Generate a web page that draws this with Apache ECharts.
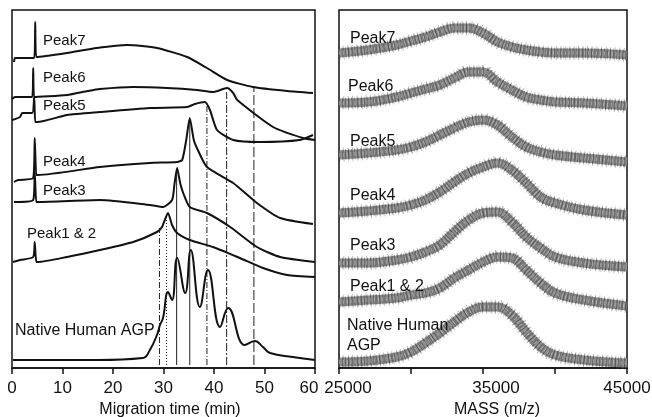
<!DOCTYPE html>
<html>
<head>
<meta charset="utf-8">
<script src="https://cdn.jsdelivr.net/npm/echarts@6/dist/echarts.min.js"></script>
<style>
  html, body { margin: 0; padding: 0; background: #fff; }
  #chart { width: 652px; height: 417px; }
</style>
</head>
<body>
<div id="chart"></div>
<script>
// left panel: electropherograms, [time (min), offset signal]
const peak7Trace = [[0.4,306],[0.6,310],[4.4,310],[4.6,346],[4.8,311],[10.9,315],[16.8,320],[22.8,323],[28.7,320],[34.7,311],[38.6,300],[42.6,288],[47.7,281],[54.5,277],[59.6,275]];
const peak6Trace = [[0,269],[0.6,271],[4.0,271],[4.2,300],[4.4,271],[10.9,273],[15.0,277],[17.4,279],[24.0,281],[30.7,280],[36.6,278],[39.8,276],[42.6,280],[43.8,275],[44.6,268],[51.7,241],[57.6,230],[60,228]];
const peak5Trace = [[0,248],[1.6,251],[2.0,255],[4.0,255],[4.4,271],[4.6,246],[5.0,246],[10.9,253],[17.4,256],[27.3,260],[34.7,261],[36.2,264],[38.2,266],[39.2,258],[40.6,238],[43.8,228],[49.1,226],[57.0,228],[59.6,233]];
const peak4Trace = [[0.4,186],[1.2,188],[4.2,190],[4.5,230],[4.8,193],[5.1,193],[17.4,201],[27.3,205],[32.7,206],[33.7,208],[34.5,228],[35.2,250],[36.0,228],[36.8,218],[38.6,201],[43.8,185],[48.5,165],[53.1,150],[59.6,144]];
const peak3Trace = [[0.4,166],[4.2,168],[4.5,196],[4.8,166],[5.1,166],[17.4,168],[27.3,163],[29.9,161],[31.7,168],[32.2,185],[32.7,200],[33.3,185],[33.9,175],[35.2,161],[38.6,155],[43.2,141],[48.5,121],[53.1,111],[60,106]];
const peak12Trace = [[0.2,106],[1.6,108],[4.2,111],[4.5,126],[4.8,106],[5.1,106],[10.9,111],[17.4,118],[24.0,126],[28.7,136],[29.7,141],[30.9,155],[31.7,143],[32.7,135],[35.2,128],[39.8,121],[45.1,110],[49.7,100],[54.5,93],[60,91]];
const nativeTrace = [[0.2,8],[4.0,8],[17.0,8],[25.9,10],[27.3,18],[28.7,33],[29.3,43],[29.9,50],[30.9,76],[31.7,68],[32.7,110],[34.3,75],[35.4,118],[37.2,61],[38.8,98],[41.2,41],[42.8,60],[46.1,23],[48.1,27],[49.7,21],[51.1,15],[55.6,11],[60,8]];

// guide lines through the native peaks
const guideTimes = [29.2, 30.6, 32.6, 35.2, 38.6, 42.5, 47.9];
const guideTops = [140, 153, 198, 248, 265, 276, 280];
const guideBottom = 3;

// right panel: mass spectra, band centre per mass
const massPoints = [25000, 27000, 29000, 30000, 31000, 32000, 33000, 34000, 35000, 36000, 37000, 38000, 39000, 40000, 42000, 45000];
const ms7 = [315, 318, 323, 327, 331, 336, 340, 340, 335, 326, 321, 318, 316, 315, 315, 313];
const ms6 = [265, 266, 271, 275, 279, 283, 290, 296, 296, 286, 278, 271, 268, 266, 265, 262];
const ms5 = [213, 215, 218, 221, 226, 233, 240, 246, 248, 243, 231, 221, 216, 213, 210, 206];
const ms4 = [155, 157, 160, 163, 168, 176, 186, 195, 201, 205, 198, 185, 171, 165, 158, 153];
const ms3 = [105, 105, 108, 111, 116, 123, 136, 148, 155, 156, 146, 131, 120, 111, 105, 101];
const ms12 = [66, 68, 70, 73, 75, 80, 90, 98, 106, 111, 110, 98, 85, 75, 68, 62];
const msNative = [6, 7, 11, 16, 25, 35, 46, 56, 61, 61, 53, 36, 21, 13, 8, 5];

const timeTicks = [0, 10, 20, 30, 40, 50, 60];
const massLabels = [25000, 35000, 45000];

const FONT = '"Liberation Sans", Arial, sans-serif';
const dom = document.getElementById('chart');
const myChart = echarts.init(dom, null, { renderer: 'canvas' });

const leftTraces = [peak7Trace, peak6Trace, peak5Trace, peak4Trace, peak3Trace, peak12Trace];
const guideDash = [[6, 2, 1, 2], [1, 2], 'solid', 'solid', [6, 2, 1, 2], [8, 2, 2, 2], [10, 3]];
const spectra = [ms7, ms6, ms5, ms4, ms3, ms12, msNative];

const series = [];

guideTimes.forEach((t, i) => {
  series.push({
    type: 'line', xAxisIndex: 0, yAxisIndex: 0, symbol: 'none', silent: true,
    data: [[t, guideBottom], [t, guideTops[i]]],
    lineStyle: { color: '#222', width: 1, type: guideDash[i] }
  });
});

leftTraces.forEach(tr => {
  series.push({
    type: 'line', xAxisIndex: 0, yAxisIndex: 0, symbol: 'none', smooth: 0.2,
    data: tr, lineStyle: { color: '#111', width: 2 }
  });
});
series.push({
  type: 'line', xAxisIndex: 0, yAxisIndex: 0, symbol: 'none', smooth: 0.45,
  data: nativeTrace, lineStyle: { color: '#111', width: 2 }
});

// noisy-looking bands: grey body plus overlapping stripe patterns
spectra.forEach(sp => {
  const d = massPoints.map((m, i) => [m, sp[i]]);
  const base = { type: 'line', xAxisIndex: 1, yAxisIndex: 1, symbol: 'none', smooth: 0.4, silent: true, data: d };
  series.push(Object.assign({}, base, { lineStyle: { color: '#8e8e8e', width: 9 } }));
  series.push(Object.assign({}, base, { lineStyle: { color: 'rgba(35,35,35,0.4)', width: 11, type: [1, 2.1] } }));
  series.push(Object.assign({}, base, { lineStyle: { color: 'rgba(20,20,20,0.3)', width: 14, type: [0.8, 3.7] } }));
  series.push(Object.assign({}, base, { lineStyle: { color: 'rgba(255,255,255,0.35)', width: 4, type: [1, 2.9] } }));
});

const leftLabels = [
  ['Peak7', 43, 42, 15], ['Peak6', 43, 79, 15], ['Peak5', 43, 107, 15], ['Peak4', 43, 163, 15],
  ['Peak3', 43, 192, 15], ['Peak1 & 2', 27, 235, 15], ['Native Human AGP', 15, 332, 16]
];
const rightLabels = [
  ['Peak7', 350, 40], ['Peak6', 348, 88], ['Peak5', 350, 143], ['Peak4', 350, 197],
  ['Peak3', 350, 247], ['Peak1 & 2', 350, 288], ['Native Human', 347, 327], ['AGP', 347, 347]
];

const graphic = leftLabels.map(l => ({
  type: 'text', left: l[1], top: l[2] - l[3] / 2 - 1,
  style: { text: l[0], font: l[3] + 'px ' + FONT, fill: '#111' }, z: 10
})).concat(rightLabels.map(l => ({
  type: 'text', left: l[1], top: l[2] - 9,
  style: { text: l[0], font: '16px ' + FONT, fill: '#111' }, z: 10
})));

const option = {
  animation: false,
  backgroundColor: '#fff',
  textStyle: { fontFamily: FONT },
  grid: [
    { left: 12, top: 10, width: 303, height: 358, outerBoundsMode: 'none', containLabel: false,
      show: true, borderColor: '#111', borderWidth: 1.5 },
    { left: 339, top: 10, width: 288, height: 358, outerBoundsMode: 'none', containLabel: false,
      show: true, borderColor: '#111', borderWidth: 1.5 }
  ],
  xAxis: [
    {
      gridIndex: 0, type: 'value', min: 0, max: 60, interval: 10,
      name: 'Migration time (min)', nameLocation: 'middle', nameGap: 31,
      nameTextStyle: { fontSize: 16, color: '#111', padding: [0, 0, 0, 13] },
      axisLine: { lineStyle: { color: '#111', width: 1.5 } },
      axisTick: { show: true, inside: false, length: 6, lineStyle: { color: '#111', width: 1.5 } },
      axisLabel: {
        fontSize: 17, color: '#111', margin: 12,
        formatter: v => timeTicks.indexOf(v) >= 0 ? (v === 60 ? '{r|' + v + '}' : String(v)) : '',
        rich: { r: { fontSize: 17, color: '#111', padding: [0, 12, 0, 0] } }
      },
      splitLine: { show: false }
    },
    {
      gridIndex: 1, type: 'value', min: 25000, max: 45000, interval: 5000,
      name: 'MASS (m/z)', nameLocation: 'middle', nameGap: 31,
      nameTextStyle: { fontSize: 16, color: '#111', padding: [0, 0, 0, 28] },
      axisLine: { lineStyle: { color: '#111', width: 1.5 } },
      axisTick: { show: true, inside: false, length: 6, lineStyle: { color: '#111', width: 1.5 } },
      axisLabel: {
        fontSize: 17, color: '#111', margin: 12, showMinLabel: true, showMaxLabel: true,
        alignMinLabel: 'center',
        formatter: v => {
          if (massLabels.indexOf(v) < 0) return '';
          if (v === 25000) return '{a|' + v + '}';
          if (v === 35000) return '{b|' + v + '}';
          return String(v);
        },
        rich: {
          a: { fontSize: 17, color: '#111', padding: [0, 0, 0, 18] },
          b: { fontSize: 17, color: '#111', padding: [0, 0, 0, 26] }
        }
      },
      splitLine: { show: false }
    }
  ],
  yAxis: [
    { gridIndex: 0, type: 'value', min: 0, max: 358, show: false, splitLine: { show: false } },
    { gridIndex: 1, type: 'value', min: 0, max: 358, show: false, splitLine: { show: false } }
  ],
  graphic: graphic,
  series: series
};

myChart.setOption(option);
</script>
</body>
</html>
